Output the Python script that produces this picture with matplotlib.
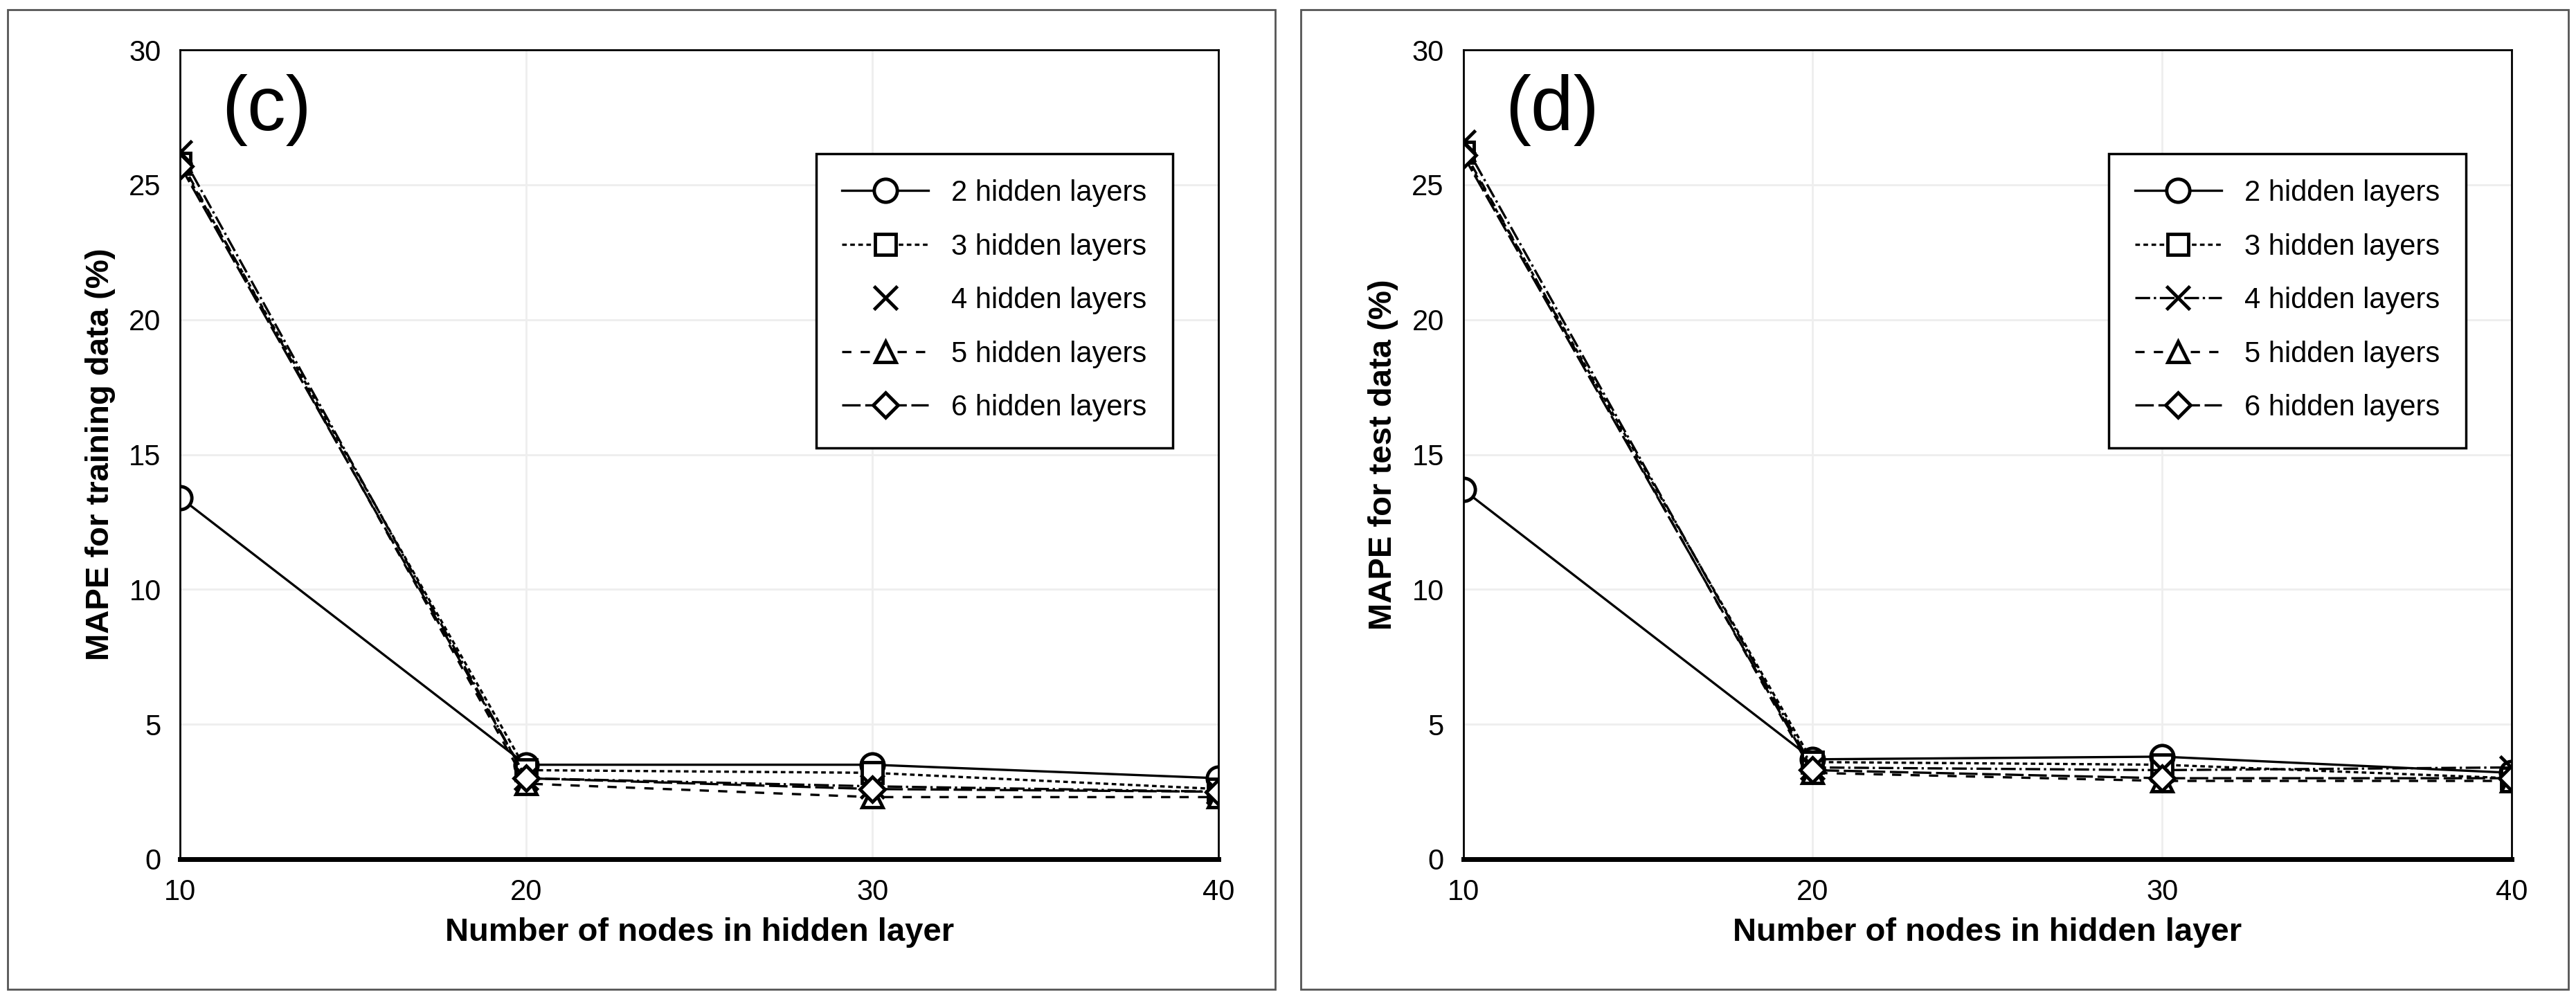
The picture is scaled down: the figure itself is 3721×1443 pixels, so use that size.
import matplotlib
matplotlib.use("Agg")
import matplotlib.pyplot as plt
from matplotlib.patches import Rectangle

plt.rcParams['font.family'] = ['Liberation Sans', 'DejaVu Sans']

nodes = [10, 20, 30, 40]
labels = ["2 hidden layers", "3 hidden layers", "4 hidden layers", "5 hidden layers", "6 hidden layers"]
train = {
    "2": [13.4, 3.5, 3.5, 3.0],
    "3": [25.8, 3.3, 3.2, 2.6],
    "4": [26.2, 3.0, 2.7, 2.5],
    "5": [25.9, 2.8, 2.3, 2.3],
    "6": [25.7, 3.0, 2.6, 2.5],
}
test = {
    "2": [13.7, 3.7, 3.8, 3.2],
    "3": [26.2, 3.6, 3.5, 3.0],
    "4": [26.6, 3.4, 3.3, 3.4],
    "5": [26.3, 3.2, 2.9, 2.9],
    "6": [26.1, 3.3, 3.0, 3.0],
}

markers = ['o', 's', 'x', '^', 'D']
styles = ['-', (0, (2, 1.5)), '-.', (0, (4, 4)), (0, (8, 2))]
msizes = [24, 22, 24, 22, 18]

fig = plt.figure(figsize=(37.21, 14.43), dpi=100)
for bx in [0.003, 0.505]:
    fig.patches.append(Rectangle((bx, 0.01), 0.492, 0.98, transform=fig.transFigure,
                                 fill=False, edgecolor='#555555', lw=2))

def panel(rect, data, tag, ylabel, noline4):
    ax = fig.add_axes(rect)
    for i, k in enumerate(["2", "3", "4", "5", "6"]):
        ls = 'none' if (noline4 and k == "4") else styles[i]
        ax.plot(nodes, data[k], linestyle=ls, color='black', lw=2.4,
                marker=markers[i], markersize=msizes[i], markerfacecolor='white',
                markeredgecolor='black', markeredgewidth=3.5, label=labels[i])
        if noline4 and k == "4":
            ax.plot(nodes, data[k], linestyle='-.', color='black', lw=2.4)
    ax.set_xlim(10, 40)
    ax.set_ylim(0, 30)
    ax.set_xticks(nodes)
    ax.set_yticks([0, 5, 10, 15, 20, 25, 30])
    ax.grid(True, color='#eeeeee', lw=2)
    ax.set_axisbelow(True)
    for s in ['left', 'right', 'top']:
        ax.spines[s].set_linewidth(2)
    ax.spines['bottom'].set_linewidth(5)
    ax.tick_params(length=0, labelsize=30, pad=20)
    ax.set_xlabel("Number of nodes in hidden layer", fontsize=34, fontweight='bold', labelpad=12)
    ax.set_ylabel(ylabel, fontsize=34, fontweight='bold', labelpad=14)
    ax.text(0.04, 0.97, tag, transform=ax.transAxes, fontsize=80, va='top', ha='left')
    leg = ax.legend(loc='upper right', bbox_to_anchor=(0.97, 0.89), fontsize=30,
                    fancybox=False, edgecolor='black', framealpha=1, handlelength=3,
                    borderpad=0.9, labelspacing=0.9, markerfirst=True)
    leg.get_frame().set_linewidth(2.5)
    if noline4:
        leg.legend_handles[2].set_linestyle('none')
    return ax

panel([0.070, 0.14, 0.403, 0.81], train, "(c)", "MAPE for training data (%)", True)
panel([0.568, 0.14, 0.407, 0.81], test, "(d)", "MAPE for test data (%)", False)

fig.savefig("out.png", dpi=100)
